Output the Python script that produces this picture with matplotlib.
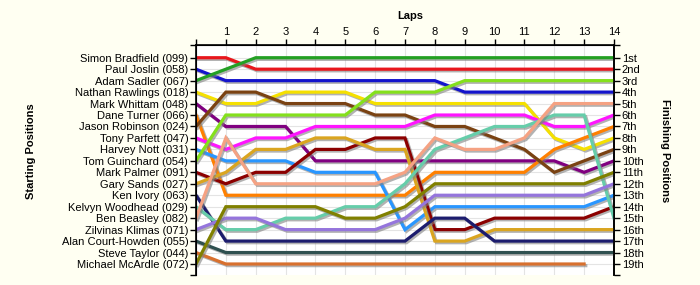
import matplotlib.pyplot as plt
import matplotlib.patheffects as pe

plt.rcParams['font.family'] = ['Liberation Sans', 'DejaVu Sans']

# starting grid, top to bottom
drivers = [
    "Simon Bradfield (099)", "Paul Joslin (058)", "Adam Sadler (067)",
    "Nathan Rawlings (018)", "Mark Whittam (048)", "Dane Turner (066)",
    "Jason Robinson (024)", "Tony Parfett (047)", "Harvey Nott (031)",
    "Tom Guinchard (054)", "Mark Palmer (091)", "Gary Sands (027)",
    "Ken Ivory (063)", "Kelvyn Woodhead (029)", "Ben Beasley (082)",
    "Zilvinas Klimas (071)", "Alan Court-Howden (055)", "Steve Taylor (044)",
    "Michael McArdle (072)",
]
finish_labels = ["1st", "2nd", "3rd", "4th", "5th", "6th", "7th", "8th", "9th",
                 "10th", "11th", "12th", "13th", "14th", "15th", "16th", "17th",
                 "18th", "19th"]

# position at lap 0..14 for each line (colour key)
red = [1, 1, 2, 2, 2, 2, 2, 2, 2, 2, 2, 2, 2, 2, 2]
blue = [2, 3, 3, 3, 3, 3, 3, 3, 3, 4, 4, 4, 4, 4, 4]
green = [3, 2, 1, 1, 1, 1, 1, 1, 1, 1, 1, 1, 1, 1, 1]
yellow = [4, 5, 5, 4, 4, 4, 5, 5, 5, 5, 5, 5, 8, 9, 8]
purple = [5, 7, 7, 7, 10, 10, 10, 10, 10, 10, 10, 10, 10, 11, 10]
orange = [6, 13, 13, 13, 13, 13, 13, 13, 11, 11, 11, 11, 9, 8, 7]
brown = [7, 4, 4, 5, 5, 5, 6, 6, 7, 7, 8, 9, 11, 10, 9]
magenta = [8, 9, 8, 8, 7, 7, 7, 7, 6, 6, 6, 6, 7, 7, 6]
lightblue = [9, 10, 10, 10, 11, 11, 11, 16, 14, 14, 14, 14, 14, 14, 13]
lime = [10, 6, 6, 6, 6, 6, 4, 4, 4, 3, 3, 3, 3, 3, 3]
darkred = [11, 12, 11, 11, 9, 9, 8, 8, 16, 16, 15, 15, 15, 15, 14]
goldenrod = [12, 11, 9, 9, 8, 8, 9, 9, 17, 17, 16, 16, 16, 16, 16]
navy = [13, 17, 17, 17, 17, 17, 17, 17, 15, 15, 17, 17, 17, 17, 17]
aqua = [14, 16, 16, 15, 15, 14, 14, 12, 9, 8, 7, 7, 6, 6, 15]
salmon = [15, 8, 12, 12, 12, 12, 12, 11, 8, 9, 9, 8, 5, 5, 5]
medpurple = [16, 15, 15, 16, 16, 16, 16, 15, 13, 13, 13, 13, 13, 13, 12]
slate = [17, 18, 18, 18, 18, 18, 18, 18, 18, 18, 18, 18, 18, 18, 18]
choc = [18, 19, 19, 19, 19, 19, 19, 19, 19, 19, 19, 19, 19, 19]
olive = [19, 14, 14, 14, 14, 15, 15, 14, 12, 12, 12, 12, 12, 12, 11]

series = [
    (red, "#E8161C"), (blue, "#1414CC"), (green, "#24A024"),
    (yellow, "#F5E000"), (purple, "#800080"), (orange, "#FF8000"),
    (brown, "#7A4212"), (magenta, "#FF14FF"), (lightblue, "#2996FF"),
    (lime, "#84E01C"), (darkred, "#8B0000"), (goldenrod, "#DAA520"),
    (navy, "#1C1C6E"), (aqua, "#66CDAA"), (salmon, "#F5A283"),
    (medpurple, "#9575DC"), (slate, "#2F5050"), (choc, "#D8702E"),
    (olive, "#808000"),
]

bg = "#FFFFF2"
fig = plt.figure(figsize=(7, 2.85), dpi=100, facecolor=bg)
ax = fig.add_axes([0.28, 0.0351, 0.5971, 0.807])
ax.set_facecolor("white")

shadow = [pe.SimpleLineShadow(offset=(1.2, -1.2), shadow_color="#808080", alpha=0.6),
          pe.Normal()]
for pos, col in series:
    ax.plot(range(len(pos)), pos, color=col, lw=2.3, solid_joinstyle="miter",
            path_effects=shadow, zorder=3)

ylo, yhi = -0.11, 19.96
ax.set_xlim(0, 14)
ax.set_ylim(yhi, ylo)

for x in range(1, 14):
    ax.axvline(x, color="#E4E4E4", lw=0.8, zorder=1)
for y in range(1, 20):
    ax.axhline(y, color="#E4E4E4", lw=0.8, zorder=1)

ax.xaxis.tick_top()
ax.set_xticks(range(15))
ax.set_xticklabels([""] + [str(i) for i in range(1, 15)])
ax.set_yticks([ylo] + list(range(1, 20)) + [yhi])
ax.set_yticklabels([""] + drivers + [""])
ax.tick_params(axis="both", labelsize=8, length=4, width=1, pad=1.5)
ax.spines["bottom"].set_visible(False)
for s in ["top", "left", "right"]:
    ax.spines[s].set_linewidth(1.2)

ax2 = ax.twinx()
ax2.set_ylim(yhi, ylo)
ax2.set_yticks([ylo] + list(range(1, 20)) + [yhi])
ax2.set_yticklabels([""] + finish_labels + [""])
ax2.tick_params(axis="y", labelsize=8, length=4, width=1, pad=1.5)
ax2.spines["bottom"].set_visible(False)
ax2.spines["right"].set_linewidth(1.2)

fig.text(0.586, 0.945, "Laps", fontsize=8, fontweight="bold", ha="center", va="center")
fig.text(0.044, 0.47, "Starting Positions", fontsize=8, fontweight="bold",
         rotation=90, ha="center", va="center")
fig.text(0.95, 0.47, "Finishing Positions", fontsize=8, fontweight="bold",
         rotation=-90, ha="center", va="center")

fig.savefig("out.png", dpi=100, facecolor=bg)
